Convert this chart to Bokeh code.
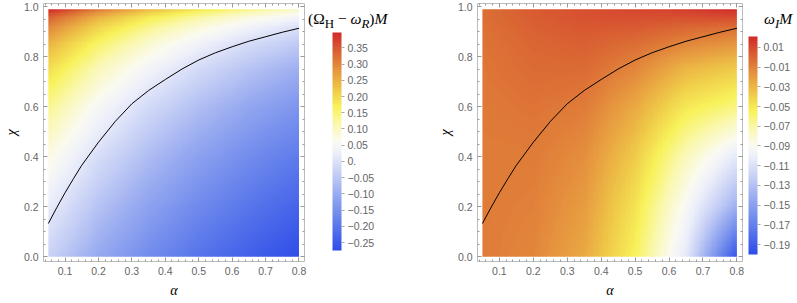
import numpy as np
from bokeh.plotting import figure
from bokeh.models import (LinearColorMapper, ColorBar, FixedTicker, LinearAxis, Range1d,
                          CustomJSTickFormatter, NumeralTickFormatter, Div)
from bokeh.layouts import row
from bokeh.embed import file_html
from bokeh.resources import INLINE

# ---------------- data ----------------
alpha_grid = [0.05, 0.2, 0.35, 0.5, 0.65, 0.8]
chi_grid = [0.0, 0.2, 0.4, 0.6, 0.75, 0.85, 0.92, 0.96, 0.99]

# (Omega_H - omega_R) M, one row per alpha value, along chi_grid
re_a005 = [-0.030, 0.020, 0.072, 0.134, 0.193, 0.244, 0.297, 0.341, 0.400]
re_a020 = [-0.105, -0.059, -0.009, 0.050, 0.106, 0.156, 0.207, 0.250, 0.309]
re_a035 = [-0.160, -0.117, -0.070, -0.015, 0.039, 0.088, 0.138, 0.181, 0.239]
re_a050 = [-0.205, -0.164, -0.119, -0.066, -0.014, 0.033, 0.083, 0.125, 0.183]
re_a065 = [-0.240, -0.201, -0.159, -0.108, -0.058, -0.012, 0.037, 0.079, 0.136]
re_a080 = [-0.270, -0.233, -0.192, -0.142, -0.093, -0.047, 0.000, 0.042, 0.099]

# omega_I M, one row per alpha value, along chi_grid
im_a005 = [-0.008, -0.008, -0.008, -0.007, -0.006, -0.005, -0.004, -0.003, -0.003]
im_a020 = [-0.012, -0.010, -0.008, -0.005, -0.002, 0.000, 0.002, 0.003, 0.004]
im_a035 = [-0.025, -0.020, -0.015, -0.008, -0.002, 0.002, 0.005, 0.007, 0.008]
im_a050 = [-0.055, -0.048, -0.038, -0.025, -0.012, -0.003, 0.004, 0.008, 0.011]
im_a065 = [-0.105, -0.092, -0.075, -0.050, -0.030, -0.012, 0.000, 0.008, 0.014]
im_a080 = [-0.195, -0.140, -0.105, -0.062, -0.038, -0.018, -0.003, 0.010, 0.020]

# black threshold curve
curve_alpha = [0.05, 0.075, 0.1, 0.125, 0.15, 0.2, 0.25, 0.3, 0.35, 0.4, 0.45, 0.5,
               0.55, 0.6, 0.65, 0.7, 0.75, 0.8]
curve_chi = [0.133, 0.196, 0.256, 0.312, 0.366, 0.458, 0.541, 0.612, 0.665, 0.709, 0.751,
             0.787, 0.816, 0.840, 0.862, 0.880, 0.898, 0.914]

x_ticks = [0.1, 0.2, 0.3, 0.4, 0.5, 0.6, 0.7, 0.8]
y_ticks = [0.0, 0.2, 0.4, 0.6, 0.8, 1.0]
cb1_ticks = [-0.25, -0.2, -0.15, -0.1, -0.05, 0.0, 0.05, 0.1, 0.15, 0.2, 0.25, 0.3, 0.35]
cb2_ticks = [-0.19, -0.17, -0.15, -0.13, -0.11, -0.09, -0.07, -0.05, -0.03, -0.01, 0.01]
cb1_low, cb1_high = -0.274, 0.397
cb2_low, cb2_high = -0.200, 0.021
cb1_title = "(Ω<sub>H</sub> − <i>ω</i><sub><i>R</i></sub>)<i>M</i>"
cb2_title = "<i>ω</i><sub><i>I</i></sub><i>M</i>"

# ---------------- colour map (temperature-like) ----------------
stops = [(0.00, "#2e4de8"), (0.15, "#6a86ec"), (0.25, "#95a8f0"), (0.35, "#c4cef5"),
         (0.45, "#eef0fa"), (0.50, "#fafaf2"), (0.58, "#faf8b0"), (0.66, "#f8f25a"),
         (0.74, "#efc848"), (0.82, "#e79a40"), (0.90, "#db6a34"), (1.00, "#d22a2a")]
pos = np.array([s[0] for s in stops])
rgb = np.array([[int(s[1][i:i + 2], 16) for i in (1, 3, 5)] for s in stops], float)
t = np.linspace(0, 1, 256)
palette = ["#%02x%02x%02x" % tuple(int(round(np.interp(tt, pos, rgb[:, k]))) for k in range(3)) for tt in t]


def field(rows):
    """Resample the read grid to a display raster (bilinear, for smooth shading)."""
    a_fine = np.linspace(alpha_grid[0], alpha_grid[-1], 151)
    c_fine = np.linspace(chi_grid[0], chi_grid[-1], 199)
    g = np.array(rows, float)
    along_c = np.array([np.interp(c_fine, chi_grid, r) for r in g])
    img = np.array([np.interp(a_fine, alpha_grid, along_c[:, j]) for j in range(len(c_fine))])
    return img


img1 = field([re_a005, re_a020, re_a035, re_a050, re_a065, re_a080])
img2 = field([im_a005, im_a020, im_a035, im_a050, im_a065, im_a080])

FRAME = "#bbbbbb"
TICKC = "#999999"
LABC = "#666666"
TFONT = "Liberation Sans"
SERIF = "Liberation Serif"
H = 300
FRAME_TOP = 3
FRAME_BOTTOM = 262

blank_fmt = CustomJSTickFormatter(code='return "";')


def make_panel(width, left, right, img, low, high, cb_ticks, cb_fmt, cb_loc):
    p = figure(width=width, height=H, x_range=Range1d(0.0355, 0.8165),
               y_range=Range1d(-0.019, 1.013), output_backend="svg",
               toolbar_location=None, min_border_left=left, min_border_top=FRAME_TOP,
               min_border_bottom=H - FRAME_BOTTOM, min_border_right=right,
               x_axis_location=None, y_axis_location=None)
    p.grid.visible = False
    p.outline_line_color = FRAME
    p.outline_line_width = 1
    p.background_fill_color = "white"
    p.border_fill_color = "white"
    mapper = LinearColorMapper(palette=palette, low=low, high=high)
    p.image(image=[img], x=alpha_grid[0], y=chi_grid[0],
            dw=alpha_grid[-1] - alpha_grid[0], dh=chi_grid[-1] - chi_grid[0],
            color_mapper=mapper)
    p.line(curve_alpha, curve_chi, line_color="black", line_width=1)

    xt = FixedTicker(ticks=x_ticks, minor_ticks=list(np.round(np.arange(0.04, 0.821, 0.02), 3)))
    yt = FixedTicker(ticks=y_ticks, minor_ticks=list(np.round(np.arange(0.0, 1.001, 0.05), 3)))
    for loc, tk in (("below", xt), ("left", yt), ("above", xt), ("right", yt)):
        ax = LinearAxis(ticker=tk, formatter=NumeralTickFormatter(format="0.0"))
        ax.axis_line_color = None
        ax.major_tick_line_color = TICKC
        ax.minor_tick_line_color = TICKC
        ax.major_tick_in = 4
        ax.major_tick_out = 0
        ax.minor_tick_in = 2
        ax.minor_tick_out = 0
        ax.major_label_text_color = LABC
        ax.major_label_text_font = TFONT
        ax.major_label_text_font_size = "10.5px"
        ax.major_label_standoff = 5
        ax.axis_label_text_font = SERIF
        ax.axis_label_text_font_style = "italic"
        ax.axis_label_text_font_size = "14px"
        ax.axis_label_text_color = "black"
        if loc == "below":
            ax.axis_label = "α"
            ax.axis_label_standoff = 5
        elif loc == "left":
            ax.axis_label = "χ"
            ax.axis_label_standoff = 2
        else:
            ax.formatter = blank_fmt
            ax.major_label_standoff = 0
        p.add_layout(ax, loc)

    cb = ColorBar(color_mapper=mapper, ticker=FixedTicker(ticks=cb_ticks),
                  formatter=CustomJSTickFormatter(code=cb_fmt), width=9, height=218,
                  location=cb_loc, margin=0, padding=0,
                  major_tick_in=0, major_tick_out=3, major_tick_line_color="#aaaaaa",
                  minor_tick_line_color=None, bar_line_color=None,
                  border_line_color=None, background_fill_color=None,
                  label_standoff=3, major_label_text_color=LABC,
                  major_label_text_font=TFONT, major_label_text_font_size="10.5px")
    p.add_layout(cb, "right")
    return p


fmt1 = """
const v = Math.round(tick * 100) / 100;
if (Math.abs(v) < 1e-9) return "0.";
return (v < 0 ? "\\u2212" : "") + Math.abs(v).toFixed(2);
"""
fmt2 = """
const v = Math.round(tick * 100) / 100;
return (v < 0 ? "\\u2212" : "") + Math.abs(v).toFixed(2);
"""

W1, W2 = 410, 387
p1 = make_panel(W1, 43, W1 - 304, img1, cb1_low, cb1_high, cb1_ticks, fmt1, (28, 11))
p2 = make_panel(W2, 477 - W1, W1 + W2 - 742, img2, cb2_low, cb2_high, cb2_ticks, fmt2, (6, 7))


def title_div(html, left, width):
    return Div(text=html, width=width, height=20,
               styles={"position": "absolute", "left": f"{left}px", "top": "4px",
                       "font-family": SERIF, "font-size": "15.5px", "font-weight": "normal",
                       "color": "black", "white-space": "nowrap", "line-height": "19px"})


d1 = title_div(cb1_title, 303, 80)
d2 = title_div(cb2_title, 759, 36)

layout = row(p1, p2, d1, d2)
open("out.html", "w").write(file_html(layout, INLINE))
